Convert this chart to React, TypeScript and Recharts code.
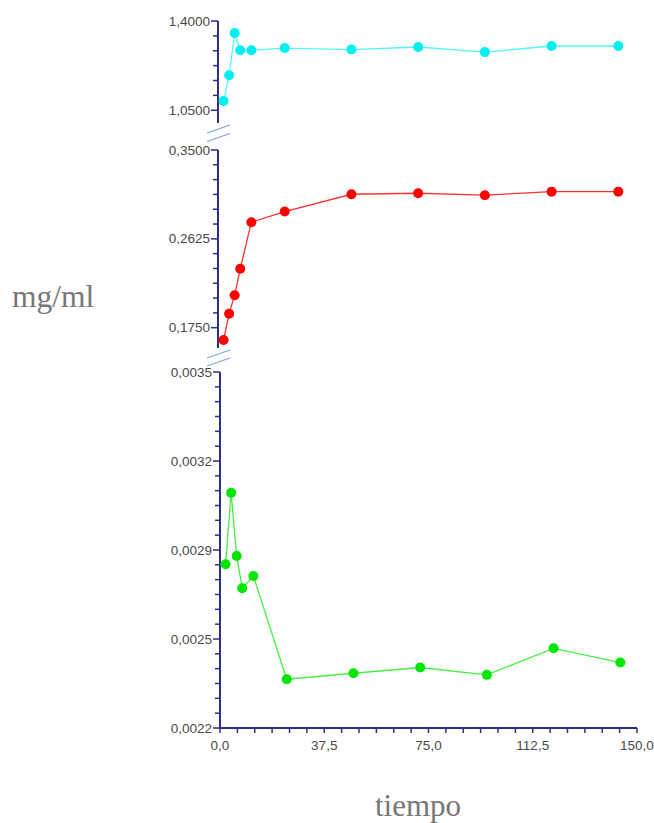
import React from "react";
import { LineChart, Line, XAxis, YAxis } from "recharts";

// sampling times (h)
const tiempo = [2, 4, 6, 8, 12, 24, 48, 72, 96, 120, 144];

// three measured series, mg/ml
const cyanValues = [1.086, 1.187, 1.353, 1.285, 1.285, 1.294, 1.288, 1.298, 1.278, 1.302, 1.302];
const redValues = [0.1628, 0.1888, 0.207, 0.233, 0.2789, 0.2894, 0.3064, 0.3074, 0.3055, 0.309, 0.309];
const greenValues = [0.002798, 0.003059, 0.002828, 0.00271, 0.002755, 0.002378, 0.0024, 0.002421, 0.002394, 0.002491, 0.002439];

const xTicks = [0, 37.5, 75, 112.5, 150];
const xTickLabels = ["0,0", "37,5", "75,0", "112,5", "150,0"];

const topTicks = [1.05, 1.4];
const topTickLabels = ["1,0500", "1,4000"];
const midTicks = [0.175, 0.2625, 0.35];
const midTickLabels = ["0,1750", "0,2625", "0,3500"];
const lowTicks = [0.0022, 0.002525, 0.00285, 0.003175, 0.0035];
const lowTickLabels = ["0,0022", "0,0025", "0,0029", "0,0032", "0,0035"];

const AXIS = "#2e2e8c";
const LABEL = "#4a4a4a";
const FONT = "'Liberation Sans', Arial, sans-serif";
const SERIF = "'Liberation Serif', 'Times New Roman', serif";

// majors plus 5 minor ticks in each gap
const withMinors = (majors: number[], n = 6) => {
  const out: number[] = [];
  for (let i = 0; i < majors.length - 1; i++) {
    const step = (majors[i + 1] - majors[i]) / n;
    for (let k = 0; k < n; k++) out.push(majors[i] + k * step);
  }
  out.push(majors[majors.length - 1]);
  return out;
};

const findMajor = (majors: number[], v: number) =>
  majors.findIndex((m) => (m === 0 ? Math.abs(v) < 1e-9 : Math.abs(m - v) < Math.abs(m) * 1e-6));

const makeYTick = (majors: number[], labels: string[]) => (props: any) => {
  const { x, y, payload } = props;
  const i = findMajor(majors, payload.value);
  const len = i >= 0 ? 7 : 5;
  return (
    <g>
      <line x1={x - len} x2={x} y1={y} y2={y} stroke={AXIS} strokeWidth={1.5} />
      {i >= 0 && (
        <text
          x={x - 8}
          y={y}
          textAnchor="end"
          dominantBaseline="central"
          fontSize={13.5}
          fontFamily={FONT}
          fill={LABEL}
        >
          {labels[i]}
        </text>
      )}
    </g>
  );
};

const XTick = (props: any) => {
  const { x, y, payload } = props;
  const i = findMajor(xTicks, payload.value);
  return (
    <g>
      <line x1={x} x2={x} y1={y} y2={y + 5} stroke={AXIS} strokeWidth={1.5} />
      {i >= 0 && (
        <text
          x={x}
          y={y + 17}
          textAnchor="middle"
          dominantBaseline="central"
          fontSize={13.5}
          fontFamily={FONT}
          fill={LABEL}
        >
          {xTickLabels[i]}
        </text>
      )}
    </g>
  );
};

const rows = (values: number[]) => tiempo.map((t, i) => ({ t, v: values[i] }));

interface PanelProps {
  top: number;
  height: number;
  margin: { top: number; right: number; bottom: number; left: number };
  axisWidth: number;
  domain: [number, number];
  majors: number[];
  labels: string[];
  values: number[];
  dotColor: string;
  lineColor: string;
  showX?: boolean;
}

const Panel: React.FC<PanelProps> = (p) => (
  <div style={{ position: "absolute", left: 0, top: p.top }}>
    <LineChart width={654} height={p.height} data={rows(p.values)} margin={p.margin}>
      <XAxis
        dataKey="t"
        type="number"
        domain={[0, 150]}
        ticks={withMinors(xTicks)}
        interval={0}
        hide={!p.showX}
        height={30}
        axisLine={{ stroke: AXIS, strokeWidth: 2 }}
        tickLine={false}
        tickSize={0}
        tickMargin={0}
        tick={XTick}
      />
      <YAxis
        type="number"
        domain={p.domain}
        allowDataOverflow
        ticks={withMinors(p.majors).filter((v) => v >= p.domain[0] - 1e-12)}
        interval={0}
        width={p.axisWidth}
        axisLine={{ stroke: AXIS, strokeWidth: 2 }}
        tickLine={false}
        tickSize={0}
        tickMargin={0}
        tick={makeYTick(p.majors, p.labels)}
      />
      <Line
        type="linear"
        dataKey="v"
        stroke={p.lineColor}
        strokeWidth={1.3}
        dot={{ r: 5, fill: p.dotColor, stroke: p.dotColor, strokeWidth: 0 }}
        activeDot={false}
        isAnimationActive={false}
      />
    </LineChart>
  </div>
);

export default function App() {
  return (
    <div style={{ position: "absolute", left: 0, top: 0, width: 654, height: 823, background: "#fff" }}>
      <Panel
        top={0}
        height={130}
        margin={{ top: 21, right: 19, bottom: 7, left: 0 }}
        axisWidth={218}
        domain={[1.0, 1.4]}
        majors={topTicks}
        labels={topTickLabels}
        values={cyanValues}
        dotColor="#00f0f0"
        lineColor="#55f5f5"
      />
      <Panel
        top={130}
        height={230}
        margin={{ top: 20, right: 19, bottom: 12, left: 0 }}
        axisWidth={218}
        domain={[0.155, 0.35]}
        majors={midTicks}
        labels={midTickLabels}
        values={redValues}
        dotColor="#ff0000"
        lineColor="#ff3030"
      />
      <Panel
        top={360}
        height={463}
        margin={{ top: 12, right: 17, bottom: 65, left: 0 }}
        axisWidth={220}
        domain={[0.0022, 0.0035]}
        majors={lowTicks}
        labels={lowTickLabels}
        values={greenValues}
        dotColor="#00e600"
        lineColor="#44f044"
        showX
      />
      <svg
        width={654}
        height={823}
        style={{ position: "absolute", left: 0, top: 0, pointerEvents: "none" }}
      >
        <g stroke="#7aa6d6" strokeWidth={1.2}>
          <line x1={207} y1={133} x2={230} y2={125} />
          <line x1={207} y1={141.5} x2={230} y2={133.5} />
          <line x1={207} y1={358} x2={230} y2={350} />
          <line x1={207} y1={366} x2={230} y2={358} />
        </g>
        <text x={12} y={307} fontSize={31.5} fontFamily={SERIF} fill="#777">
          mg/ml
        </text>
        <text x={375} y={816} fontSize={31} fontFamily={SERIF} fill="#777">
          tiempo
        </text>
      </svg>
    </div>
  );
}
